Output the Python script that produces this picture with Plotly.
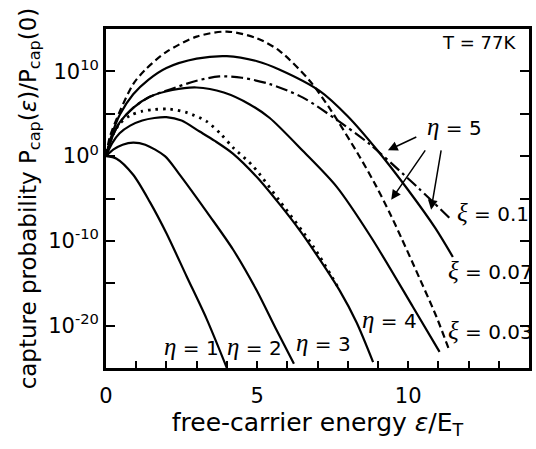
import numpy as np
import plotly.graph_objects as go

# Energy axis (epsilon / E_T) and log10 of the normalised capture probability
eta1_eps = [0.0, 0.35, 0.9, 1.45, 2.0, 2.67, 3.33, 4.0]
eta1_log = [0.0, -0.3, -2.2, -5.4, -9.1, -14.2, -19.2, -25.0]

eta2_eps = [0.0, 0.25, 0.55, 0.9, 1.3, 1.95, 2.4, 3.44, 4.21, 4.98, 5.64, 6.22]
eta2_log = [0.0, 0.8, 1.35, 1.6, 1.35, 0.0, -2.0, -7.1, -11.05, -15.8, -20.5, -24.5]

eta3_eps = [0.0, 0.2, 0.45, 0.8, 1.2, 1.6, 2.0, 2.5, 3.1, 3.6, 4.2, 5.0, 5.75, 6.4, 6.85, 7.74, 8.29, 8.84]
eta3_log = [0.0, 1.5, 2.7, 3.6, 4.2, 4.5, 4.6, 4.2, 2.9, 1.8, 0.3, -2.5, -5.7, -8.7, -11.0, -15.9, -19.6, -24.3]

dot_eps = [0.0, 0.2, 0.45, 0.8, 1.2, 1.6, 2.1, 2.7, 3.33, 3.8, 4.21, 4.87, 5.75, 6.85, 7.7]
dot_log = [0.0, 2.3, 3.8, 4.8, 5.3, 5.5, 5.55, 5.1, 4.1, 2.6, 1.0, -1.2, -5.3, -10.6, -15.6]

eta4_eps = [0.0, 0.2, 0.46, 0.9, 1.45, 2.2, 3.0, 3.9, 4.76, 5.42, 6.52, 7.63, 8.78, 10.16, 11.04]
eta4_log = [0.0, 2.2, 4.0, 5.7, 7.0, 7.8, 8.1, 7.5, 6.1, 4.5, 0.6, -3.6, -9.6, -17.8, -23.1]

# eta = 5, three values of xi
xi03_eps = [0.0, 0.13, 0.46, 0.9, 1.3, 2.0, 3.0, 4.0, 5.0, 5.75, 6.74, 7.41, 8.4, 8.95, 9.39, 9.77, 10.2, 10.93, 11.35]
xi03_log = [0.0, 2.3, 5.3, 8.5, 10.2, 12.3, 14.1, 14.7, 13.9, 12.4, 8.9, 5.6, -0.1, -3.6, -6.7, -9.6, -13.0, -18.9, -22.8]

xi07_eps = [0.0, 0.2, 0.46, 0.9, 1.4, 2.0, 3.0, 4.0, 5.0, 5.75, 7.07, 8.0, 9.0, 10.0, 10.9, 11.48]
xi07_log = [0.0, 2.6, 4.9, 7.3, 9.0, 10.4, 11.5, 11.8, 11.2, 10.2, 7.7, 4.7, 0.6, -4.0, -8.5, -11.9]

xi10_eps = [0.0, 0.2, 0.46, 0.9, 1.45, 2.14, 3.0, 3.75, 4.5, 5.42, 6.52, 7.63, 8.73, 9.83, 10.38, 11.37]
xi10_log = [0.0, 2.2, 4.0, 5.7, 7.0, 7.9, 8.9, 9.4, 9.25, 8.5, 6.9, 4.3, 1.4, -2.1, -3.9, -7.3]

x_major = [0, 5, 10]
x_labels = ["0", "5", "10"]
x_minor = list(range(0, 15))
y_major_exp = [-20, -10, 0, 10]
y_labels = ["10<sup>-20</sup>", "10<sup>-10</sup>", "10<sup>0</sup>", "10<sup>10</sup>"]
y_minor_exp = [-20, -15, -10, -5, 0, 5, 10]

FONT = "DejaVu Sans"
GREEK = '<span style="font-family:Liberation Serif;font-style:italic;font-size:25px">{}</span>'
ETA = GREEK.format("η")
XI = GREEK.format("ξ")

curves = [
    (eta1_eps, eta1_log, "solid", 2.2),
    (eta2_eps, eta2_log, "solid", 2.2),
    (eta3_eps, eta3_log, "solid", 2.2),
    (dot_eps, dot_log, "2.5px,5px", 2.8),
    (eta4_eps, eta4_log, "solid", 2.2),
    (xi03_eps, xi03_log, "7px,4px", 2.2),
    (xi07_eps, xi07_log, "solid", 2.2),
    (xi10_eps, xi10_log, "12px,4px,3px,4px", 2.2),
]

fig = go.Figure()
for eps, lg, dash, w in curves:
    fig.add_trace(go.Scatter(
        x=eps, y=10.0 ** np.array(lg), mode="lines",
        line=dict(color="black", width=w, dash=dash, shape="spline", smoothing=0.8),
        showlegend=False, hoverinfo="skip",
    ))

# text, x, y, anchor, size, horizontal shift (px)
labels = [
    (f"{ETA} = 1", 2.83, -22.5, "center", 20, 0),
    (f"{ETA} = 2", 4.93, -22.5, "center", 20, 0),
    (f"{ETA} = 3", 7.19, -22.0, "center", 20, 0),
    (f"{ETA} = 4", 9.37, -19.3, "center", 20, 0),
    (f"{ETA} = 5", 11.55, 3.5, "center", 20, 0),
    (f"{XI} = 0.1", 14.0, -6.7, "right", 20, 2),
    (f"{XI} = 0.07", 14.0, -13.5, "right", 20, 6),
    (f"{XI} = 0.03", 14.0, -20.6, "right", 20, 6),
    ("T = 77K", 13.62, 13.4, "right", 18, 0),
]
for txt, x, y, anchor, size, shift in labels:
    fig.add_annotation(x=x, y=y, xref="x", yref="y", text=txt, showarrow=False,
                       xanchor=anchor, yanchor="middle", xshift=shift,
                       font=dict(family=FONT, size=size, color="black"))

arrows = [
    ((10.32, 2.34), (9.33, 0.69)),
    ((10.6, 0.85), (9.44, -5.14)),
    ((11.1, 0.85), (10.76, -6.32)),
]
for (tx, ty), (hx, hy) in arrows:
    fig.add_annotation(x=hx, y=hy, ax=tx, ay=ty, xref="x", yref="y", axref="x", ayref="y",
                       text="", showarrow=True, arrowhead=2, arrowsize=1.3,
                       arrowwidth=1.5, arrowcolor="black")

fig.update_xaxes(range=[0, 14], tickmode="array", tickvals=x_major, ticktext=x_labels,
                 ticks="inside", ticklen=7, tickwidth=1.5, tickcolor="black",
                 minor=dict(tickmode="array", tickvals=x_minor, ticks="inside",
                            ticklen=7, tickwidth=1.5, tickcolor="black", showgrid=False),
                 ticklabelstandoff=7,
                 title=dict(text="free-carrier energy <i>ε</i>/E<sub>T</sub>", standoff=6,
                            font=dict(family=FONT, size=25, color="black")),
                 showline=True, linewidth=2.8, linecolor="black", mirror=True,
                 showgrid=False, zeroline=False, automargin=False,
                 tickfont=dict(family=FONT, size=21, color="black"))
fig.update_yaxes(type="log", range=[-25, 15], tickmode="array",
                 tickvals=[10.0 ** k for k in y_major_exp], ticktext=y_labels,
                 ticks="inside", ticklen=9, tickwidth=1.5, tickcolor="black",
                 minor=dict(tickmode="array", tickvals=[10.0 ** k for k in y_minor_exp],
                            ticks="inside", ticklen=9, tickwidth=1.5, tickcolor="black",
                            showgrid=False),
                 title=dict(text="capture probability P<sub>cap</sub>(<i>ε</i>)/P<sub>cap</sub>(0)",
                            standoff=6, font=dict(family=FONT, size=23, color="black")),
                 showline=True, linewidth=2.8, linecolor="black", mirror="ticks",
                 showgrid=False, zeroline=False, automargin=False,
                 tickfont=dict(family=FONT, size=21, color="black"))

fig.update_layout(width=536, height=449, margin=dict(l=106, r=7, t=29, b=81),
                  plot_bgcolor="white", paper_bgcolor="white")

fig.write_html("out.html")
